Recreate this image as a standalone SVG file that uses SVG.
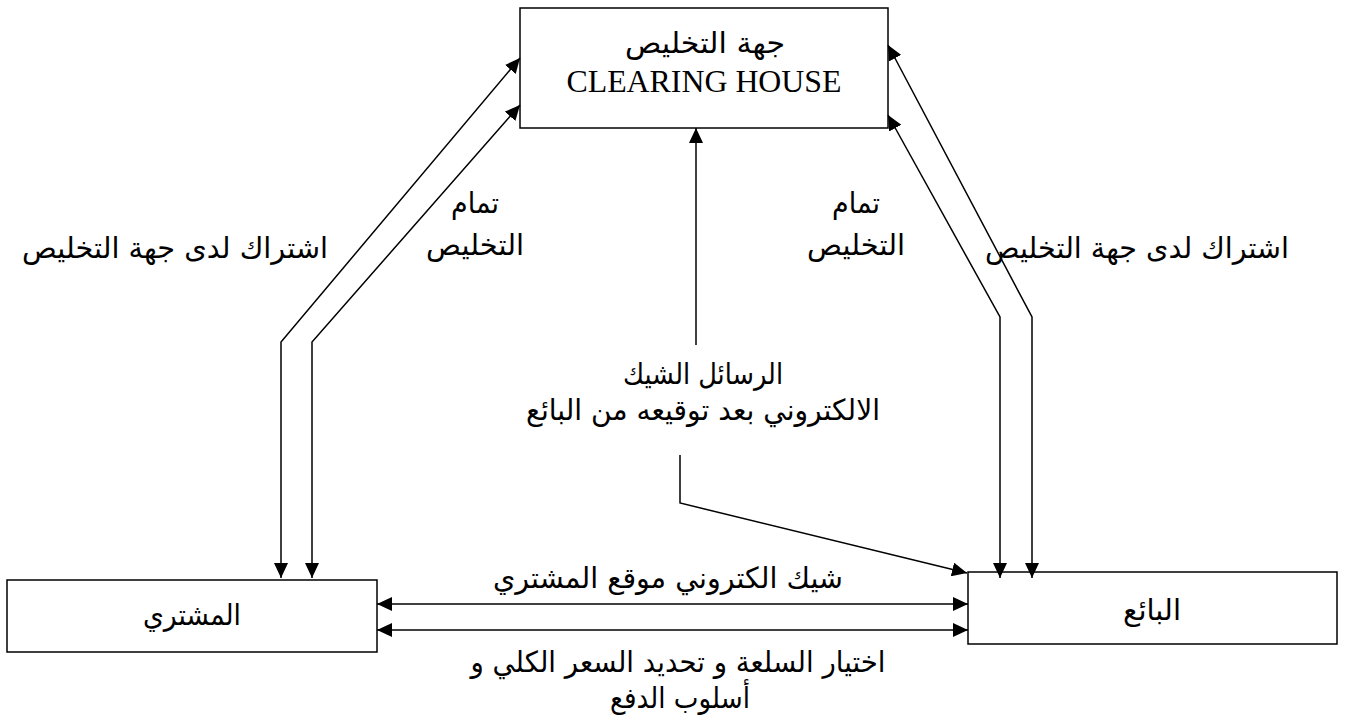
<svg xmlns="http://www.w3.org/2000/svg" width="1346" height="726" viewBox="0 0 1346 726">
<style>
.box{fill:#fff;stroke:#000;stroke-width:1.5}
.ln{fill:none;stroke:#000;stroke-width:1.5}
.ar{font-family:"DejaVu Sans","Liberation Sans",sans-serif;font-size:29px;fill:#000;text-anchor:middle}
.en{font-family:"Liberation Serif",serif;font-size:32px;fill:#000;text-anchor:middle}
</style>
<defs>
<marker id="ah" markerWidth="15" markerHeight="14" refX="15" refY="7" orient="auto-start-reverse" markerUnits="userSpaceOnUse">
<path d="M0,0 L15,7 L0,14 Z" fill="#000"/>
</marker>
</defs>
<rect width="1346" height="726" fill="#fff"/>
<g id="clearing-house">
<rect class="box" x="520" y="8" width="368" height="120"/>
<text class="ar" x="705" y="53" font-size="31" textLength="160" lengthAdjust="spacingAndGlyphs">جهة التخليص</text>
<text class="en" x="704" y="92" textLength="275" lengthAdjust="spacingAndGlyphs">CLEARING HOUSE</text>
</g>
<g id="buyer">
<rect class="box" x="7" y="580" width="370" height="72"/>
<text class="ar" x="192" y="625" textLength="98" lengthAdjust="spacingAndGlyphs">المشتري</text>
</g>
<g id="seller">
<rect class="box" x="968" y="572" width="369" height="72"/>
<text class="ar" x="1152" y="620" textLength="58" lengthAdjust="spacingAndGlyphs">البائع</text>
</g>
<g id="connectors">
<polyline class="ln" points="281,578 281,342 520,58" marker-start="url(#ah)" marker-end="url(#ah)"/>
<polyline class="ln" points="312,578 312,342 520,105" marker-start="url(#ah)" marker-end="url(#ah)"/>
<polyline class="ln" points="1000,578 1000,317 888,115" marker-start="url(#ah)" marker-end="url(#ah)"/>
<polyline class="ln" points="1032,578 1032,317 888,45" marker-start="url(#ah)" marker-end="url(#ah)"/>
<line class="ln" x1="696" y1="345" x2="696" y2="128" marker-end="url(#ah)"/>
<polyline class="ln" points="680,455 680,503 967,573" marker-end="url(#ah)"/>
<line class="ln" x1="377" y1="604" x2="968" y2="604" marker-start="url(#ah)" marker-end="url(#ah)"/>
<line class="ln" x1="377" y1="630" x2="968" y2="630" marker-start="url(#ah)" marker-end="url(#ah)"/>
</g>
<g id="labels">
<text class="ar" x="175" y="258" textLength="306" lengthAdjust="spacingAndGlyphs">اشتراك لدى جهة التخليص</text>
<text class="ar" x="475" y="213" textLength="48" lengthAdjust="spacingAndGlyphs">تمام</text>
<text class="ar" x="475" y="255" textLength="98" lengthAdjust="spacingAndGlyphs">التخليص</text>
<text class="ar" x="856" y="213" textLength="48" lengthAdjust="spacingAndGlyphs">تمام</text>
<text class="ar" x="856" y="255" textLength="98" lengthAdjust="spacingAndGlyphs">التخليص</text>
<text class="ar" x="1137" y="258" textLength="304" lengthAdjust="spacingAndGlyphs">اشتراك لدى جهة التخليص</text>
<text class="ar" x="703" y="384" textLength="160" lengthAdjust="spacingAndGlyphs">الرسائل الشيك</text>
<text class="ar" x="703" y="420" textLength="354" lengthAdjust="spacingAndGlyphs">الالكتروني بعد توقيعه من البائع</text>
<text class="ar" x="668" y="588" textLength="350" lengthAdjust="spacingAndGlyphs">شيك الكتروني موقع المشتري</text>
<text class="ar" x="678" y="672" textLength="415" lengthAdjust="spacingAndGlyphs">اختيار السلعة و تحديد السعر الكلي و</text>
<text class="ar" x="680" y="708" textLength="140" lengthAdjust="spacingAndGlyphs">أسلوب الدفع</text>
</g>
</svg>
